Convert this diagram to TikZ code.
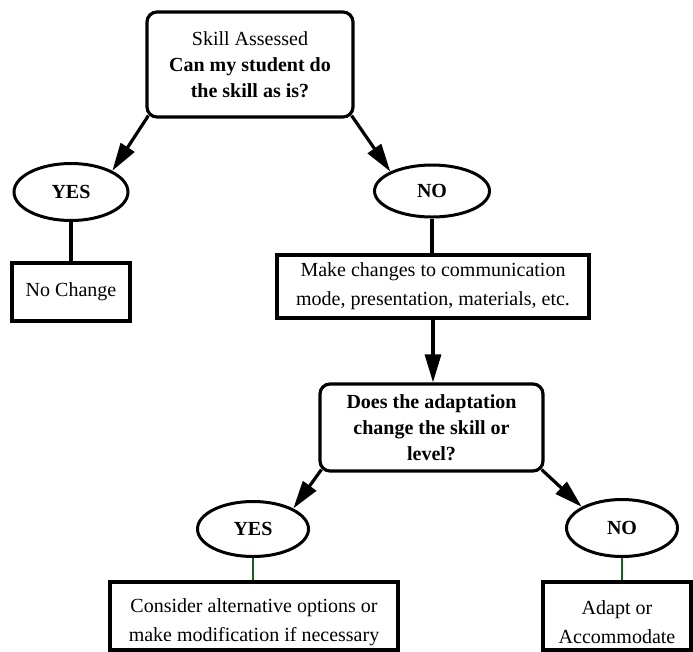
\documentclass[tikz,border=0pt]{standalone}
\usepackage{fontspec}
\setmainfont{Liberation Serif}
\usetikzlibrary{shapes.geometric,arrows.meta}
\definecolor{lg}{RGB}{25,95,25}
\begin{document}
\begin{tikzpicture}[x=1pt,y=-1pt,
  every node/.style={font=\fontsize{20}{26}\selectfont, inner sep=0pt, align=center},
  rbox/.style={draw, line width=3.2pt, rounded corners=10pt},
  sbox/.style={draw, line width=3.2pt},
  oval/.style={draw, ellipse, line width=3pt},
  arr/.style={line width=3.2pt, -{Triangle[length=28pt,width=16pt]}},
  link/.style={line width=3.2pt},
  glink/.style={line width=2.4pt, draw=lg}]
\useasboundingbox (0,0) rectangle (693,651);

\node[rbox, minimum width=206pt, minimum height=105pt] (top) at (250,64.5)
  {Skill Assessed\\\textbf{Can my student do}\\\textbf{the skill as is?}};
\node[oval, minimum width=114pt, minimum height=57pt] (yes1) at (71,192) {\textbf{YES}};
\node[oval, minimum width=115pt, minimum height=52pt] (no1) at (432,191) {\textbf{NO}};
\node[sbox, minimum width=118pt, minimum height=58pt] (nochange) at (71,292) {No Change};
\node[sbox, minimum width=312pt, minimum height=63pt, font=\fontsize{20}{29}\selectfont] (make) at (433,286.5)
  {Make changes to communication\\mode, presentation, materials, etc.};
\node[rbox, minimum width=223pt, minimum height=87pt] (dec) at (431.5,427.5)
  {\textbf{Does the adaptation}\\\textbf{change the skill or}\\\textbf{level?}};
\node[oval, minimum width=111pt, minimum height=55pt] (yes2) at (253,529) {\textbf{YES}};
\node[oval, minimum width=111pt, minimum height=57pt] (no2) at (622,528) {\textbf{NO}};
\node[sbox, minimum width=288pt, minimum height=68pt] (consider) at (254,616) {};
\node[font=\fontsize{20}{29}\selectfont] (considertext) at (254,622)
  {Consider alternative options or\\make modification if necessary};
\node[sbox, minimum width=148pt, minimum height=68pt] (adapt) at (617,616) {};
\node[font=\fontsize{20}{29}\selectfont] (adapttext) at (617,622) {Adapt or\\Accommodate};

\draw[arr] ([shift={(3pt,3pt)}]top.south west) -- (yes1.north east);
\draw[arr] ([shift={(-3pt,3pt)}]top.south east) -- (no1.north west);
\draw[link] (yes1.south) -- (nochange.north);
\draw[link] (no1.south) -- (no1.south |- make.north);
\draw[arr] (make.south) -- (make.south |- dec.north);
\draw[arr] ([shift={(3pt,3pt)}]dec.south west) -- (yes2.north east);
\draw[arr] ([shift={(-3pt,3pt)}]dec.south east) -- (no2.north west);
\draw[glink] (yes2.south) -- (yes2.south |- consider.north);
\draw[glink] (no2.south) -- (no2.south |- adapt.north);
\end{tikzpicture}
\end{document}
